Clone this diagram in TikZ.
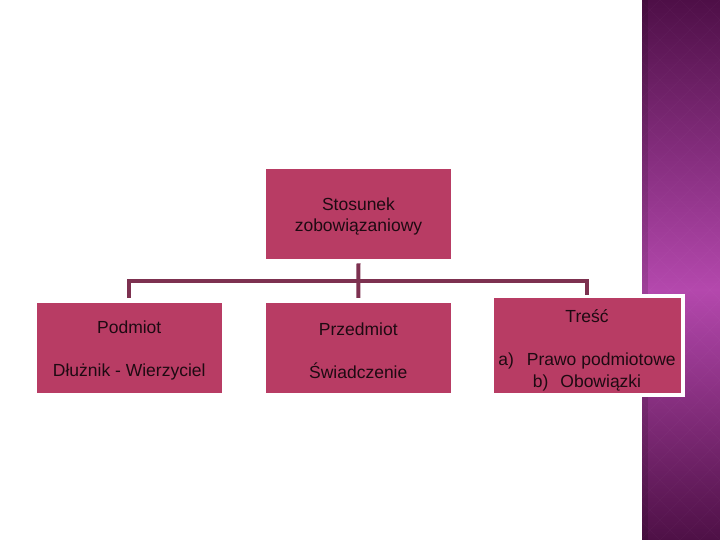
\documentclass[tikz,border=0pt]{standalone}
\usepackage{fontspec}
\setmainfont{Liberation Sans}
\definecolor{boxfill}{HTML}{B83C64}
\definecolor{connc}{HTML}{7D3150}
\definecolor{txt}{HTML}{1E0A12}
\definecolor{stripTop}{HTML}{4E0F47}
\definecolor{stripMid}{HTML}{B448AD}
\definecolor{stripBot}{HTML}{4E1046}
\begin{document}
\begin{tikzpicture}[x=1pt,y=-1pt,
  box/.style={fill=boxfill, draw=none, inner sep=0pt},
  lbl/.style={inner sep=0pt, text=txt, align=center,
              font=\fontsize{17.5}{21.5}\selectfont},
  connector/.style={draw=connc, line width=4pt}]
\useasboundingbox (0,0) rectangle (720,540);
\fill[white] (0,0) rectangle (720,540);
% decorative strip
\shade[top color=stripTop, bottom color=stripMid] (642,0) rectangle (720,290);
\shade[top color=stripMid, bottom color=stripBot] (642,289.5) rectangle (720,540);
\begin{scope}
  \clip (642,0) rectangle (720,540);
  \foreach \i in {0,...,50} {
    \draw[white, opacity=0.025, line width=1pt] (600,\i*20-260) -- ++(260,260);
    \draw[white, opacity=0.025, line width=1pt] (600,\i*20-260) -- ++(260,-260);
  }
  \fill[black, opacity=0.12] (642,0) rectangle (648,540);
\end{scope}
% boxes
\node[box, minimum width=185pt, minimum height=89.5pt] (top) at (358.5,214) {};
\node[lbl] (topText) at (358.5,216.5) {Stosunek\\[-1pt]zobowiązaniowy};
\node[box, minimum width=184.5pt, minimum height=89.5pt] (podmiot) at (129.25,347.75) {};
\node[lbl] (podmiotText) at (129.25,350.5) {Podmiot\\[21.5pt]Dłużnik - Wierzyciel};
\node[box, minimum width=185.5pt, minimum height=89.5pt] (mid) at (358.25,347.75) {};
\node[lbl] (midText) at (358.25,350.5) {Przedmiot\\[21.5pt]Świadczenie};
\node[box, draw=white, line width=4pt,
      minimum width=190.5pt, minimum height=98.5pt] (tresc) at (587.25,345.25) {};
\node[lbl] (trescText) at (587,350.5)
  {Treść\\[21.5pt]a)\hspace{13pt}Prawo podmiotowe\\b)\hspace{12pt}Obowiązki};
% connectors
\draw[connector] ([yshift=-4.5pt]top.south) -- ([yshift=5pt]mid.north);
\draw[connector] ([yshift=5pt]podmiot.north) -- ++(0,-17) -| ([yshift=-0.5pt]tresc.north);
\end{tikzpicture}
\end{document}
